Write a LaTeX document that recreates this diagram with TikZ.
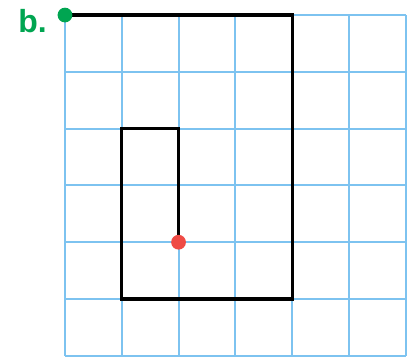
\documentclass[tikz,border=0pt]{standalone}
\usepackage{fontspec}
\setmainfont{Liberation Sans}
\usepackage{xcolor}
\usetikzlibrary{positioning}
\definecolor{gridblue}{HTML}{7DC3F0}
\definecolor{dotgreen}{HTML}{00A551}
\definecolor{dotred}{HTML}{EF4B45}
\tikzset{
  gridline/.style={draw=gridblue, line width=1pt},
  walkline/.style={draw=black, line width=1.6pt, line join=miter},
  walkdot/.style={circle, inner sep=0pt, minimum size=0.26cm},
  partlabel/.style={font=\fontsize{16}{19}\selectfont\bfseries, text=dotgreen}
}

\begin{document}
\begin{tikzpicture}[x=1cm, y=1cm]
  \useasboundingbox (-1.144,-0.035) rectangle (6.04,6.265);
  \draw[gridline] (0,0) grid (6,6);

  \coordinate (c1) at (4,6);
  \coordinate (c2) at (4,1);
  \coordinate (c3) at (1,1);
  \coordinate (c4) at (1,4);
  \coordinate (c5) at (2,4);
  \node[walkdot] (start) at (0,6) {};
  \node[walkdot] (stop) at (2,2) {};

  \draw[walkline] (start.center) -- (c1) -- (c2) -- (c3) -- (c4) -- (c5) -- (stop.center);
  \fill[dotgreen] (start) circle (0.13);
  \fill[dotred] (stop) circle (0.13);

  \node[partlabel] (label) at (-0.57,5.89) {b.};
\end{tikzpicture}
\end{document}
